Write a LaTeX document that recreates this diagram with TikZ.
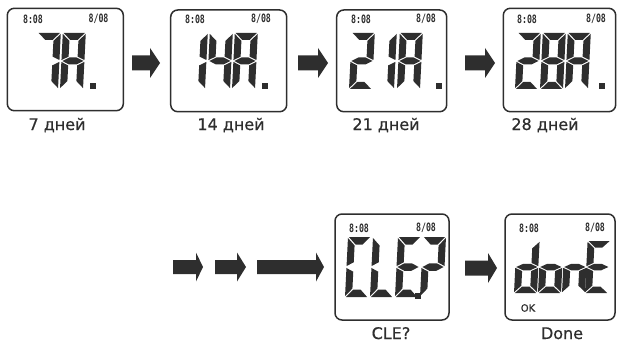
\documentclass[tikz,border=0pt]{standalone}
\usepackage{fontspec}
\setmainfont{DejaVu Sans}[FakeBold=0.6]
\newfontfamily\lcdfont{DejaVu Sans Mono}
\colorlet{ink}{black!82}
\tikzset{
  screen/.style={draw=ink, line width=1.5pt, rounded corners=7pt, inner sep=0pt},
  lcd/.style={fill=ink},
  clock/.style={font=\lcdfont\bfseries\fontsize{11.5}{11.5}\selectfont, text=ink,
                inner sep=0pt, xscale=0.72},
  caption/.style={font=\fontsize{16}{16}\selectfont, text=ink, anchor=base, inner sep=0pt},
  okmark/.style={font=\fontsize{10}{10}\selectfont, text=ink, inner sep=0pt},
}
% seven-segment cell, 23 x 56 units, origin at the bottom-left corner
\newcommand\lcdsega{\fill[lcd] (0.9,56) -- (22.1,56) -- (15.1,49) -- (7.9,49) -- cycle;}
\newcommand\lcdsegb{\fill[lcd] (23,55.1) -- (23,28.9) -- (16,32.4) -- (16,48.1) -- cycle;}
\newcommand\lcdsegc{\fill[lcd] (23,27.1) -- (23,0.9) -- (16,7.9) -- (16,23.6) -- cycle;}
\newcommand\lcdsegd{\fill[lcd] (0.9,0) -- (22.1,0) -- (15.1,7) -- (7.9,7) -- cycle;}
\newcommand\lcdsege{\fill[lcd] (0,27.1) -- (0,0.9) -- (7,7.9) -- (7,23.6) -- cycle;}
\newcommand\lcdsegf{\fill[lcd] (0,55.1) -- (0,28.9) -- (7,32.4) -- (7,48.1) -- cycle;}
\newcommand\lcdsegg{\fill[lcd] (0.9,28) -- (7.9,31.5) -- (15.1,31.5) -- (22.1,28) -- (15.1,24.5) -- (7.9,24.5) -- cycle;}
% #1 left x, #2 bottom y, #3 height, #4 list of lit segments
\newcommand\lcdglyph[4]{%
  \begin{scope}[shift={(#1,#2)}, x=1pt, y=1pt, xslant=0.05, yscale=#3/56]
    \foreach \seg in {#4} {\csname lcdseg\seg\endcsname}
  \end{scope}}
% decimal point: #1 left x, #2 top y
\newcommand\lcddot[2]{\fill[lcd] (#1,#2) rectangle ++(6,6);}
% block arrow: start x, head x, tip x, centre y, half body, half head
\newcommand\blockarrow[6]{%
  \fill[lcd] (#1,#4-#5) -- (#2,#4-#5) -- (#2,#4-#6) -- (#3,#4)
    -- (#2,#4+#6) -- (#2,#4+#5) -- (#1,#4+#5) -- cycle;}
\begin{document}
\begin{tikzpicture}[x=1pt, y=-1pt]
\useasboundingbox (0,0) rectangle (617,342);

% ---- top row: 7, 14, 21, 28 days ----
\node[screen, minimum width=116pt, minimum height=102.4pt] (s1) at (65.3,59.5) {};
\node[screen, minimum width=116pt, minimum height=101.7pt] (s2) at (228.7,60.85) {};
\node[screen, minimum width=110pt, minimum height=101.7pt] (s3) at (391.7,60.85) {};
\node[screen, minimum width=112.4pt, minimum height=103.4pt] (s4) at (559.5,60) {};

\foreach \nm/\xa/\xb in {s1/33/98.5, s2/195/261, s3/361/426, s4/527/596}{
  \node[clock] (\nm t) at (\xa,19) {8:08};
  \node[clock] (\nm d) at (\xb,19) {8/08};
}

% 7A.
\lcdglyph{35}{89}{56}{a,b,c}
\lcdglyph{60}{89}{56}{a,b,c,e,f,g}
\lcddot{90}{83}
% 14A.
\lcdglyph{182}{89}{56}{b,c}
\lcdglyph{207}{89}{56}{b,c,f,g}
\lcdglyph{232}{89}{56}{a,b,c,e,f,g}
\lcddot{262}{83}
% 21A.
\lcdglyph{349}{89}{56}{a,b,d,e,g}
\lcdglyph{371}{89}{56}{b,c}
\lcdglyph{397}{89}{56}{a,b,c,e,f,g}
\lcddot{436}{83}
% 28A.
\lcdglyph{515}{89}{56}{a,b,d,e,g}
\lcdglyph{540}{89}{56}{a,b,c,d,e,f,g}
\lcdglyph{565}{89}{56}{a,b,c,e,f,g}
\lcddot{599}{83}

\node[caption] (c1) at (57,130) {7 дней};
\node[caption] (c2) at (231,130) {14 дней};
\node[caption] (c3) at (386,130) {21 дней};
\node[caption] (c4) at (545,130) {28 дней};

\blockarrow{132}{150}{160}{63}{7.5}{15}
\blockarrow{298}{318}{328}{63}{7.5}{15}
\blockarrow{465}{485}{495}{63}{7.5}{15}

% ---- bottom row: clear and done ----
\blockarrow{173}{196}{203}{267}{7}{14.5}
\blockarrow{215}{237}{246}{267}{7}{14.5}
\blockarrow{257}{316}{324}{267}{7}{14.5}
\blockarrow{465}{488}{497}{268}{7.5}{15}

\node[screen, minimum width=114pt, minimum height=106pt] (sclr) at (392,267) {};
\node[screen, minimum width=110pt, minimum height=106pt] (sdone) at (560,267) {};

\node[clock] (sclrt) at (359,228) {8:08};
\node[clock] (sclrd) at (426,228) {8/08};
\node[clock] (sdonet) at (529,228) {8:08};
\node[clock] (sdoned) at (595,228) {8/08};

% CLE?
\lcdglyph{345}{297}{60}{a,d,e,f}
\lcdglyph{370}{297}{60}{d,e,f}
\lcdglyph{395}{297}{60}{a,d,e,f,g}
\lcdglyph{420}{297}{60}{a,b,e,g}
\lcddot{415}{293}
% donE
\lcdglyph{514}{293}{52}{b,c,d,e,g}
\lcdglyph{538}{293}{52}{c,d,e,g}
\lcdglyph{562}{293}{52}{c,e,g}
\lcdglyph{585}{293}{52}{a,d,e,f,g}
\node[okmark] (ok) at (528,308) {OK};

\node[caption] (c5) at (391,339) {CLE?};
\node[caption] (c6) at (562,339) {Done};
\end{tikzpicture}
\end{document}
